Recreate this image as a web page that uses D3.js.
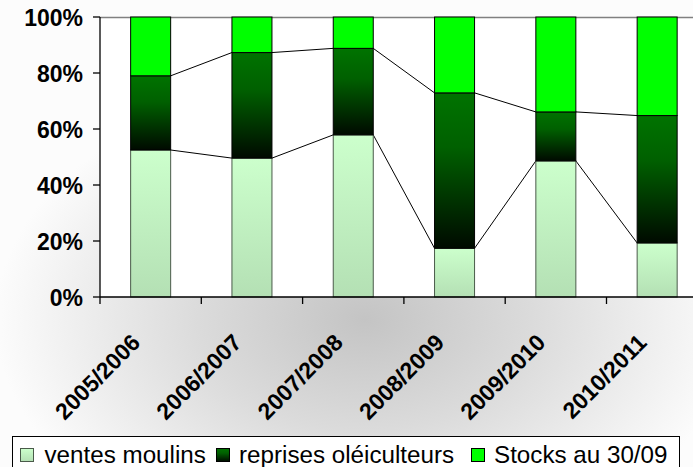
<!DOCTYPE html>
<html><head><meta charset="utf-8">
<script src="https://cdn.jsdelivr.net/npm/d3@7"></script>
<style>html,body{margin:0;padding:0;background:#fff;overflow:hidden}</style>
</head><body>
<svg id="c" width="693" height="467"></svg>
<script>
const categories = ["2005/2006","2006/2007","2007/2008","2008/2009","2009/2010","2010/2011"];
const ventesMoulins = [52.5, 49.6, 57.9, 17.4, 48.6, 19.3];
const reprisesOleiculteurs = [26.5, 37.7, 30.9, 55.5, 17.5, 45.5];
const stocks = [21.0, 12.7, 11.2, 27.1, 33.9, 35.2];
const yTicks = [0, 20, 40, 60, 80, 100];
const seriesNames = ["ventes moulins", "reprises oléiculteurs", "Stocks au 30/09"];

(function(){
const W = 693, H = 467;
const svg = d3.select("#c");
const defs = svg.append("defs");

const bg = defs.append("radialGradient").attr("id","bg")
  .attr("gradientUnits","userSpaceOnUse").attr("cx",365).attr("cy",320).attr("r",370)
  .attr("gradientTransform","translate(365,320) scale(1,0.66) translate(-365,-320)");
bg.append("stop").attr("offset",0).attr("stop-color","#c4c4c4");
bg.append("stop").attr("offset",0.45).attr("stop-color","#dbdbdb");
bg.append("stop").attr("offset",1).attr("stop-color","#fcfcfc");

const g1 = defs.append("linearGradient").attr("id","gVentes").attr("x1",0).attr("y1",0).attr("x2",0).attr("y2",1);
g1.append("stop").attr("offset",0).attr("stop-color","#ccffcc");
g1.append("stop").attr("offset",1).attr("stop-color","#b4e0b4");
const g2 = defs.append("linearGradient").attr("id","gReprises").attr("x1",0).attr("y1",0).attr("x2",0).attr("y2",1);
g2.append("stop").attr("offset",0).attr("stop-color","#007300");
g2.append("stop").attr("offset",0.35).attr("stop-color","#006000");
g2.append("stop").attr("offset",1).attr("stop-color","#000a00");

svg.append("rect").attr("width",W).attr("height",H).attr("fill","url(#bg)");

const pLeft = 100, pTop = 17, pBottom = 297, step = 101.3;
const x = d3.scaleBand().domain(categories).range([pLeft, pLeft + step*categories.length]).padding(0);
const y = d3.scaleLinear().domain([0,100]).range([pBottom, pTop]);
const barW = x.bandwidth() * 0.395;

// plot area
svg.append("rect").attr("x",pLeft).attr("y",pTop).attr("width",W-pLeft).attr("height",pBottom-pTop).attr("fill","#fff");
svg.append("line").attr("x1",pLeft).attr("x2",W).attr("y1",pTop+0.5).attr("y2",pTop+0.5).attr("stroke","#808080").attr("stroke-width",1.5);

const fills = ["url(#gVentes)","url(#gReprises)","#00ff00"];
const strokes = ["#4a5a4a","#000","#000"];
const series = [ventesMoulins, reprisesOleiculteurs, stocks];
const stacked = categories.map((c,i)=>{
  let acc = 0;
  return series.map((s,k)=>{ const y0 = acc; acc += s[i]; return {c, k, y0, y1: acc}; });
});

// series lines
[0,1].forEach(k=>{
  for (let i=0;i<categories.length-1;i++){
    const a = stacked[i][k], b = stacked[i+1][k];
    const cx0 = x(categories[i]) + x.bandwidth()/2 + barW/2;
    const cx1 = x(categories[i+1]) + x.bandwidth()/2 - barW/2;
    svg.append("line").attr("x1",cx0).attr("y1",y(a.y1)).attr("x2",cx1).attr("y2",y(b.y1))
      .attr("stroke","#000").attr("stroke-width",1);
  }
});

stacked.forEach(segs=>{
  segs.forEach(s=>{
    const bx = x(s.c) + x.bandwidth()/2 - barW/2;
    svg.append("rect").attr("x",bx).attr("y",y(s.y1)).attr("width",barW).attr("height",y(s.y0)-y(s.y1))
      .attr("fill",fills[s.k]).attr("stroke",strokes[s.k]).attr("stroke-width",1);
  });
});

// axes
const ax = svg.append("g").attr("stroke","#000").attr("stroke-width",1.3);
ax.append("line").attr("x1",pLeft).attr("x2",pLeft).attr("y1",pTop).attr("y2",pBottom);
ax.append("line").attr("x1",pLeft).attr("x2",W).attr("y1",pBottom).attr("y2",pBottom);
yTicks.forEach(t=>{
  ax.append("line").attr("x1",pLeft-7).attr("x2",pLeft).attr("y1",y(t)).attr("y2",y(t));
});
categories.forEach(c=>{
  ax.append("line").attr("x1",x(c)).attr("x2",x(c)).attr("y1",pBottom).attr("y2",pBottom+7);
});

svg.selectAll(".yl").data(yTicks).enter().append("text")
  .attr("x",83).attr("y",d=>y(d)+8.5).attr("text-anchor","end")
  .attr("font-family","'Liberation Sans', Arial, sans-serif").attr("font-weight","bold").attr("font-size",23)
  .attr("fill","#000").text(d=>d+"%");

svg.selectAll(".xl").data(categories).enter().append("text")
  .attr("transform",d=>`translate(${x(d)+x.bandwidth()/2-9},344) rotate(-45)`)
  .attr("text-anchor","end")
  .attr("font-family","'Liberation Sans', Arial, sans-serif").attr("font-weight","bold").attr("font-size",23)
  .attr("fill","#000").text(d=>d);

// legend
svg.append("rect").attr("x",12.5).attr("y",436.5).attr("width",667).attr("height",40)
  .attr("fill","#fff").attr("stroke","#000").attr("stroke-width",1);
const legX = [20.5, 216.5, 471.5];
const legTX = [44.5, 239, 494];
seriesNames.forEach((n,k)=>{
  svg.append("rect").attr("x",legX[k]).attr("y",448.5).attr("width",13).attr("height",13)
    .attr("fill",fills[k]).attr("stroke",k===0?"#4a5a4a":"#000").attr("stroke-width",1);
  svg.append("text").attr("x",legTX[k]).attr("y",462.5)
    .attr("font-family","'Liberation Sans', Arial, sans-serif").attr("font-size",24.2)
    .attr("fill","#000").text(n);
});
})();
</script>
</body></html>
